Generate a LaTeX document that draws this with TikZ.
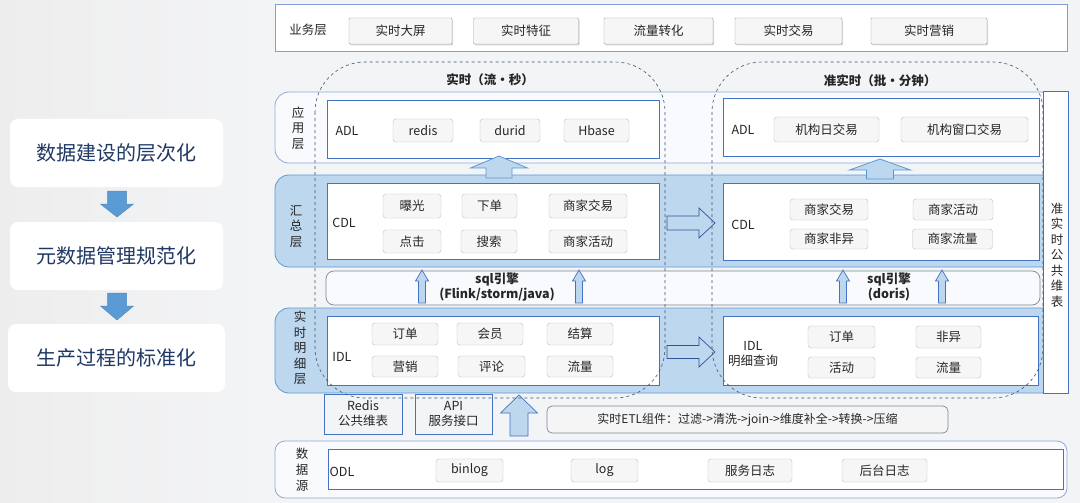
\documentclass[tikz,border=0pt]{standalone}
\usepackage{fontspec}
\setmainfont{Noto Sans CJK SC}
\usetikzlibrary{positioning,shadows}

\definecolor{bandblue}{HTML}{BDD7EE}
\definecolor{lineblue}{HTML}{4472C4}
\definecolor{softblue}{HTML}{8FAADC}
\definecolor{midblue}{HTML}{5B9BD5}
\definecolor{deepblue}{HTML}{2F5597}
\definecolor{navy}{HTML}{1F3864}
\definecolor{slate}{HTML}{44546A}
\definecolor{paper}{HTML}{F3F4F6}
\definecolor{palefill}{HTML}{F8FAFD}

% block arrows: [style]{centre}{start}{head base}{tip}{half shaft}{half head}
\newcommand{\vblock}[7][]{%
  \draw[#1] ({#2-#6},#3) -- ({#2-#6},#4) -- ({#2-#7},#4) -- (#2,#5)
    -- ({#2+#7},#4) -- ({#2+#6},#4) -- ({#2+#6},#3) -- cycle;}
\newcommand{\hblock}[7][]{%
  \draw[#1] (#3,{#2-#6}) -- (#4,{#2-#6}) -- (#4,{#2-#7}) -- (#5,#2)
    -- (#4,{#2+#7}) -- (#4,{#2+#6}) -- (#3,{#2+#6}) -- cycle;}

\begin{document}
\begin{tikzpicture}[
        x=1pt,y=-1pt,
        every node/.style={font=\fontsize{12.5}{15}\selectfont, text=black!85},
        panel/.style={
          fill=white,
          rounded corners=8pt,
          minimum width=213pt,
          minimum height=68pt,
          font=\fontsize{20}{24}\selectfont,
          text=navy
        },
        layer/.style={draw=lineblue, line width=1pt, fill=white, inner sep=0pt},
        band/.style={draw=midblue, line width=0.8pt, rounded corners=14pt, inner sep=0pt},
        item/.style={
          draw=gray!50,
          fill=gray!7,
          rounded corners=3pt,
          inner sep=0pt,
          minimum height=23pt
        },
        bizitem/.style={
          item,
          draw=gray!75,
          rounded corners=1pt,
          minimum height=26pt,
          drop shadow={opacity=0.3, shadow xshift=1pt, shadow yshift=-1.5pt}
        },
        vlabel/.style={align=center, font=\fontsize{12.5}{15.5}\selectfont, inner sep=0pt},
        bold/.style={font=\bfseries\fontsize{12.5}{15}\selectfont, align=center},
        zone/.style={draw=slate, dashed, rounded corners=50pt, line width=0.6pt},
        fat/.style={fill=bandblue, draw=midblue, line width=0.8pt},
        thin/.style={fill=bandblue, draw=lineblue, line width=0.7pt}
      ]
      % background
      \fill[paper] (0,0) rectangle (1080,503);
      \shade[left color=gray!14, right color=paper] (0,0) rectangle (265,503);

      % left: three steps
      \node[panel] (layering) at (116.5,153) {数据建设的层次化};
      \node[panel] (metadata) at (116.5,256) {元数据管理规范化};
      \node[panel, minimum width=217pt] (process) at (116.5,358) {生产过程的标准化};
      \vblock[fill=midblue, draw=midblue!90!black, line width=0.5pt]{117}{191}{204}{217}{9.5}{16.5}
      \vblock[fill=midblue, draw=midblue!90!black, line width=0.5pt]{117}{293}{306}{320}{9.5}{16.5}

      % business layer
      \node[layer, draw=softblue!80!lineblue, minimum width=792pt, minimum height=47pt] (biz) at (671,28.5) {};
      \node (bizLabel) at (308,30) {业务层};
      \node[bizitem, minimum width=103pt] (screen) at (400.5,31) {实时大屏};
      \node[bizitem, minimum width=105pt] (feature) at (526,31) {实时特征};
      \node[bizitem, minimum width=109pt] (convert) at (658.5,31) {流量转化};
      \node[bizitem, minimum width=107pt] (trade) at (788.5,31) {实时交易};
      \node[bizitem, minimum width=116pt] (market) at (929,31) {实时营销};

      % layer bands
      \node[band, draw=softblue, fill=palefill, minimum width=780pt, minimum height=71pt] (appBand) at (665,127.5) {};
      \node[band, fill=bandblue, minimum width=780pt, minimum height=92pt] (sumBand) at (665,221) {};
      \node[band, fill=bandblue, minimum width=780pt, minimum height=85pt] (detailBand) at (665,350.5) {};
      \node[layer, minimum width=25pt, minimum height=301pt] (dimCol) at (1055.5,242.5) {};
      \node[vlabel] (dimLabel) at (1057,255) {准\\实\\时\\公\\共\\维\\表};
      \node[vlabel] (appLabel) at (298,128) {应\\用\\层};
      \node[vlabel] (sumLabel) at (296,226) {汇\\总\\层};
      \node[vlabel] (detailLabel) at (300,348) {实\\时\\明\\细\\层};

      % ADL
      \node[layer, minimum width=332pt, minimum height=57pt] (adlL) at (493,129.5) {};
      \node[layer, minimum width=316pt, minimum height=57pt] (adlR) at (881,127.5) {};
      \node (adlLName) at (347,131) {ADL};
      \node (adlRName) at (743,130) {ADL};
      \node[item, minimum width=60pt] (redis) at (423,130.5) {redis};
      \node[item, minimum width=60pt] (durid) at (510,130.5) {durid};
      \node[item, minimum width=65pt] (hbase) at (596.5,130.5) {Hbase};
      \node[item, minimum width=105pt, minimum height=25pt] (orgDay) at (826.5,129.5) {机构日交易};
      \node[item, minimum width=127pt, minimum height=25pt] (orgWin) at (964.5,129.5) {机构窗口交易};

      % CDL
      \node[layer, minimum width=332pt, minimum height=76pt] (cdlL) at (493,221) {};
      \node[layer, minimum width=316pt, minimum height=77pt] (cdlR) at (881,221.5) {};
      \node (cdlLName) at (344,223) {CDL};
      \node (cdlRName) at (743,225) {CDL};
      \node[item, minimum width=58pt, minimum height=24pt] (expose) at (412,206) {曝光};
      \node[item, minimum width=55pt, minimum height=24pt] (order) at (489.5,206) {下单};
      \node[item, minimum width=78pt, minimum height=24pt] (shopTrade) at (588,206) {商家交易};
      \node[item, minimum width=58pt] (click) at (412,241.5) {点击};
      \node[item, minimum width=56pt] (search) at (489,241.5) {搜索};
      \node[item, minimum width=78pt] (shopAct) at (588,241.5) {商家活动};
      \node[item, minimum width=78pt, minimum height=21pt] (rShopTrade) at (829,209.5) {商家交易};
      \node[item, minimum width=80pt, minimum height=21pt] (rShopAct) at (953,209.5) {商家活动};
      \node[item, minimum width=78pt, minimum height=20pt] (rShopDiff) at (829,239) {商家非异};
      \node[item, minimum width=80pt, minimum height=20pt] (rShopFlow) at (952.5,239) {商家流量};

      % sql engines
      \node[draw=slate!70, fill=palefill, line width=0.7pt, rounded corners=8pt,
        minimum width=714pt, minimum height=34pt, inner sep=0pt] (sqlBox) at (683,288) {};
      \node[bold] (sqlL) at (497,287) {sql引擎\\(Flink/storm/java)};
      \node[bold] (sqlR) at (889,287) {sql引擎\\(doris)};

      % IDL
      \node[layer, minimum width=332pt, minimum height=69pt] (idlL) at (493,350.5) {};
      \node[layer, minimum width=315pt, minimum height=69pt] (idlR) at (880.5,350.5) {};
      \node (idlLName) at (342,357) {IDL};
      \node[align=center] (idlRName) at (753,354) {IDL\\明细查询};
      \node[item, minimum width=66pt, minimum height=22pt] (iOrder) at (405,334) {订单};
      \node[item, minimum width=66pt, minimum height=22pt] (iMember) at (490,334) {会员};
      \node[item, minimum width=66pt, minimum height=22pt] (iSettle) at (580,334) {结算};
      \node[item, minimum width=66pt, minimum height=21pt] (iPromo) at (405,366.5) {营销};
      \node[item, minimum width=67pt, minimum height=21pt] (iReview) at (491.5,366.5) {评论};
      \node[item, minimum width=66pt, minimum height=21pt] (iFlow) at (580,366.5) {流量};
      \node[item, minimum width=67pt, minimum height=22pt] (rOrder) at (841.5,337) {订单};
      \node[item, minimum width=65pt, minimum height=22pt] (rDiff) at (948.5,337) {非异};
      \node[item, minimum width=67pt, minimum height=21pt] (rAct) at (841.5,367.5) {活动};
      \node[item, minimum width=65pt, minimum height=21pt] (rFlow) at (948.5,367.5) {流量};

      % tools between IDL and ODL
      \node[draw=lineblue, line width=1pt, minimum width=78pt, minimum height=40pt,
        inner sep=0pt, align=center] (redisDim) at (363,414) {Redis\\公共维表};
      \node[draw=lineblue, line width=1pt, minimum width=77pt, minimum height=40pt,
        inner sep=0pt, align=center] (apiBox) at (453.5,414) {API\\服务接口};
      \node[draw=slate!70, fill=gray!8, line width=0.7pt, rounded corners=5pt,
        minimum width=401pt, minimum height=27pt, inner sep=0pt,
        font=\fontsize{12}{14}\selectfont] (etl) at (747.5,419.5)
        {实时ETL组件：过滤->清洗->join->维度补全->转换->压缩};

      % data source
      \node[band, draw=softblue, fill=palefill, rounded corners=10pt,
        minimum width=792pt, minimum height=57pt] (srcBand) at (671,469.5) {};
      \node[vlabel, font=\fontsize{12.5}{16}\selectfont] (srcLabel) at (302,470) {数\\据\\源};
      \node[layer, minimum width=735pt, minimum height=40pt] (odl) at (695.5,469) {};
      \node (odlName) at (342,472) {ODL};
      \node[item, minimum width=67pt] (binlog) at (469.5,470.5) {binlog};
      \node[item, minimum width=67pt] (log) at (604.5,470.5) {log};
      \node[item, minimum width=84pt] (svcLog) at (750,470.5) {服务日志};
      \node[item, minimum width=85pt] (bgLog) at (884.5,470.5) {后台日志};

      % flow arrows
      \vblock[fat]{499}{178}{168}{156}{13}{28.5}
      \vblock[fat]{880}{179}{170}{159}{13.5}{30.5}
      \hblock[fill=bandblue, draw=deepblue, line width=0.7pt]{223}{667}{699}{715}{7}{15}
      \hblock[fill=bandblue, draw=deepblue, line width=0.7pt]{352}{667}{699}{715}{6.5}{15}
      \vblock[thin]{422}{303}{281}{270}{3.5}{6.5}
      \vblock[thin]{579}{303}{281}{270}{3.5}{6.5}
      \vblock[thin]{843}{303}{281}{270}{3.5}{6.5}
      \vblock[thin]{942}{303}{281}{270}{3.5}{6.5}
      \vblock[thin]{519}{436}{413}{395}{9}{18.5}

      % real-time and near-real-time zones
      \draw[zone] (315,62) rectangle (665,398);
      \draw[zone] (712,62) rectangle (1043,398);
      \node[bold] (rtTitle) at (490,80) {实时（流·秒）};
      \node[bold] (nrtTitle) at (880,81) {准实时（批·分钟）};
      \end{tikzpicture}
\end{document}
